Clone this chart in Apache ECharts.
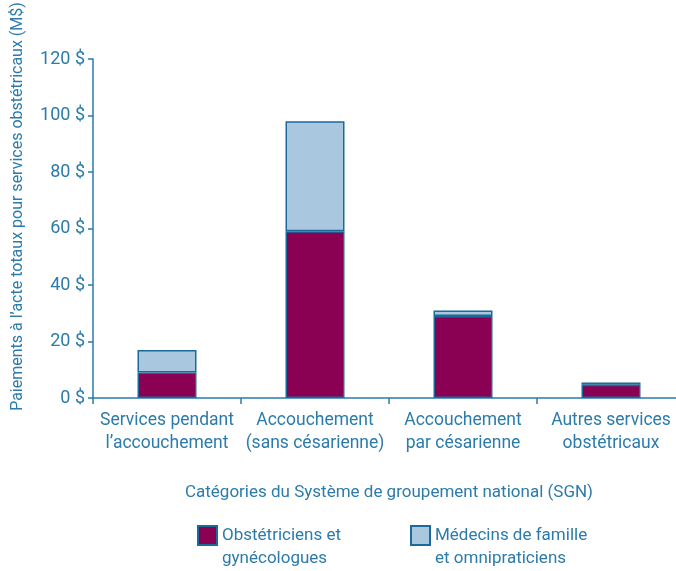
<!DOCTYPE html>
<html>
<head>
<meta charset="utf-8">
<script src="https://cdn.jsdelivr.net/npm/echarts@6/dist/echarts.min.js"></script>
<style>
  html, body { margin: 0; padding: 0; background: #fff; }
  #chart { width: 676px; height: 571px; }
</style>
</head>
<body>
<div id="chart"></div>
<script>
// catégories SGN
const categories = [
  'Services pendant\nl\u2019accouchement',
  'Accouchement\n(sans césarienne)',
  'Accouchement\npar césarienne',
  'Autres services\nobstétricaux'
];
const obstetriciens = [9, 59, 29, 4.7];
const medecinsFamille = [8, 39, 2, 0.8];

const nomObst = 'Obstétriciens et\ngynécologues';
const nomMed = 'Médecins de famille\net omnipraticiens';

const blue = '#2b7bab';
const edge = '#1b6a9b';
const fontFam = 'Roboto, sans-serif';

const legendText = {
  color: blue, fontSize: 17, fontFamily: fontFam, lineHeight: 23
};

// ligne vide en tête : l'icône se cale sur la première ligne du texte
const legendFmt = function (name) { return '\n' + name; };

const myChart = echarts.init(document.getElementById('chart'));
const option = {
  textStyle: { fontFamily: fontFam },
  grid: { left: 93, top: 59, width: 592, bottom: 173, outerBoundsMode: 'none', containLabel: false },
  legend: [
    {
      data: [nomObst],
      left: 197,
      top: 501,
      padding: 0,
      itemWidth: 19,
      itemHeight: 19,
      itemGap: 6,
      icon: 'rect',
      formatter: legendFmt,
      textStyle: legendText
    },
    {
      data: [nomMed],
      left: 410,
      top: 501,
      padding: 0,
      itemWidth: 19,
      itemHeight: 19,
      itemGap: 6,
      icon: 'rect',
      formatter: legendFmt,
      textStyle: legendText
    }
  ],
  xAxis: {
    type: 'category',
    data: categories,
    name: 'Catégories du Système de groupement national (SGN)',
    nameLocation: 'middle',
    nameGap: 86,
    nameTextStyle: { color: blue, fontSize: 17, fontFamily: fontFam },
    axisLine: { lineStyle: { color: blue, width: 1.5 } },
    axisTick: { show: true, interval: 0, length: 6, lineStyle: { color: blue, width: 1.5 } },
    axisLabel: { color: blue, fontSize: 17.5, lineHeight: 23, margin: 11, interval: 0, fontFamily: fontFam }
  },
  yAxis: {
    type: 'value',
    min: 0,
    max: 120,
    interval: 20,
    name: 'Paiements à l\u2019acte totaux pour services obstétricaux (M$)',
    nameLocation: 'middle',
    nameRotate: 90,
    nameGap: 67,
    // le titre est un peu décalé vers le haut dans l'original
    nameTextStyle: { color: blue, fontSize: 16, fontFamily: fontFam, padding: [0, 0, 0, 44] },
    splitLine: { show: false },
    axisLine: { show: true, lineStyle: { color: blue, width: 1.5 } },
    axisTick: { show: true, length: 5, lineStyle: { color: blue, width: 1.5 } },
    axisLabel: { color: blue, fontSize: 18, margin: 8, formatter: '{value} $', fontFamily: fontFam }
  },
  series: [
    {
      name: nomObst,
      type: 'bar',
      stack: 'total',
      barWidth: 59,
      itemStyle: { color: '#8a0052', borderColor: edge, borderWidth: 1.5 },
      data: obstetriciens
    },
    {
      name: nomMed,
      type: 'bar',
      stack: 'total',
      barWidth: 59,
      itemStyle: { color: '#a9c7de', borderColor: edge, borderWidth: 1.5 },
      data: medecinsFamille
    }
  ]
};
myChart.setOption(option);
</script>
</body>
</html>
